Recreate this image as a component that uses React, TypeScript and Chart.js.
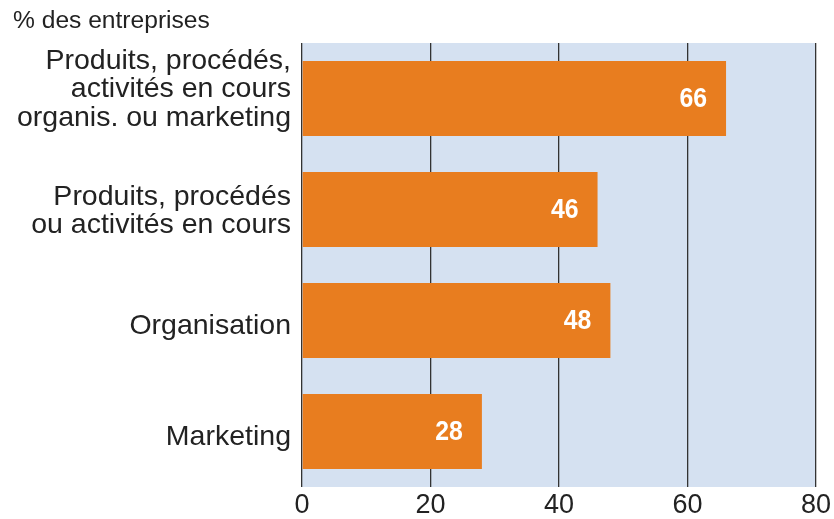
import React, { useEffect, useRef } from "react";
import { Chart, registerables } from "chart.js";

Chart.register(...registerables);

const categories: string[][] = [
  ["Produits, procédés,", "activités en cours", "organis. ou marketing"],
  ["Produits, procédés", "ou activités en cours"],
  ["Organisation"],
  ["Marketing"],
];
const values: number[] = [66, 46, 48, 28];
const xTicks: number[] = [0, 20, 40, 60, 80];
const unitLabel = "% des entreprises";

// small vertical nudges of the category labels (style only)
const LABEL_NUDGE = [-9, 1.5, 6, 5.5];

const BAR = "#e87d1f";
const PLOT_BG = "#d5e1f1";
const GRID = "#333333";
const TEXT = "#222222";
const FONT = "'Liberation Sans', Arial, sans-serif";

export default function App() {
  const ref = useRef<HTMLCanvasElement | null>(null);

  useEffect(() => {
    document.body.style.margin = "0";
    const canvas = ref.current;
    if (!canvas) return;

    const bgPlugin = {
      id: "plotBg",
      beforeDraw(chart: any) {
        const { ctx, chartArea } = chart;
        ctx.save();
        ctx.fillStyle = PLOT_BG;
        ctx.fillRect(chartArea.left, chartArea.top, chartArea.right - chartArea.left, chartArea.bottom - chartArea.top);
        ctx.restore();
      },
    };

    const catLabelPlugin = {
      id: "catLabels",
      afterDraw(chart: any) {
        const { ctx, chartArea } = chart;
        const yScale = chart.scales.y;
        const lh = 28.7;
        ctx.save();
        ctx.fillStyle = TEXT;
        ctx.font = `28.5px ${FONT}`;
        ctx.textAlign = "right";
        ctx.textBaseline = "middle";
        categories.forEach((lines, i) => {
          const cy = yScale.getPixelForValue(i) + LABEL_NUDGE[i];
          const n = lines.length;
          lines.forEach((line, j) => {
            ctx.fillText(line, chartArea.left - 11, cy + (j - (n - 1) / 2) * lh);
          });
        });
        ctx.restore();
      },
    };

    const labelPlugin = {
      id: "valueLabels",
      afterDatasetsDraw(chart: any) {
        const { ctx } = chart;
        const meta = chart.getDatasetMeta(0);
        ctx.save();
        ctx.fillStyle = "#ffffff";
        ctx.font = `bold 27px ${FONT}`;
        ctx.textAlign = "right";
        ctx.textBaseline = "middle";
        meta.data.forEach((el: any, i: number) => {
          ctx.save();
          ctx.translate(el.x - 19, el.y + 1);
          ctx.scale(0.92, 1);
          ctx.fillText(String(values[i]), 0, 0);
          ctx.restore();
        });
        ctx.restore();
      },
    };

    const titlePlugin = {
      id: "unitTitle",
      afterDraw(chart: any) {
        const { ctx } = chart;
        ctx.save();
        ctx.fillStyle = TEXT;
        ctx.font = `24.6px ${FONT}`;
        ctx.textAlign = "left";
        ctx.textBaseline = "middle";
        ctx.fillText(unitLabel, 13, 21);
        ctx.restore();
      },
    };

    const chart = new Chart(canvas, {
      type: "bar",
      data: {
        labels: categories,
        datasets: [
          {
            data: values,
            backgroundColor: BAR,
            borderWidth: 0,
            barPercentage: 0.9,
            categoryPercentage: 0.75,
          },
        ],
      },
      options: {
        indexAxis: "y",
        responsive: false,
        animation: false,
        maintainAspectRatio: false,
        layout: { padding: { top: 43, right: 18, left: 0, bottom: 0 } },
        plugins: {
          legend: { display: false },
          tooltip: { enabled: false },
          title: { display: false },
        },
        scales: {
          x: {
            min: 0,
            max: 80,
            afterBuildTicks(scale: any) {
              scale.ticks = xTicks.map((v) => ({ value: v }));
            },
            afterFit(scale: any) {
              scale.height = 32;
              scale.paddingLeft = 0;
              scale.paddingRight = 0;
            },
            grid: { color: GRID, lineWidth: 1.3, drawTicks: false },
            border: { display: false },
            ticks: {
              color: TEXT,
              font: { family: FONT, size: 27, lineHeight: 1.1 },
              padding: 4,
              maxRotation: 0,
            },
          },
          y: {
            afterFit(scale: any) {
              scale.width = 302;
              scale.paddingTop = 0;
              scale.paddingBottom = 0;
            },
            grid: { display: false, drawTicks: false },
            border: { display: false },
            ticks: { display: false },
          },
        },
      },
      plugins: [bgPlugin, labelPlugin, catLabelPlugin, titlePlugin],
    });

    return () => chart.destroy();
  }, []);

  return (
    <div style={{ width: 834, height: 519 }}>
      <canvas ref={ref} width={834} height={519} style={{ display: "block" }} />
    </div>
  );
}
